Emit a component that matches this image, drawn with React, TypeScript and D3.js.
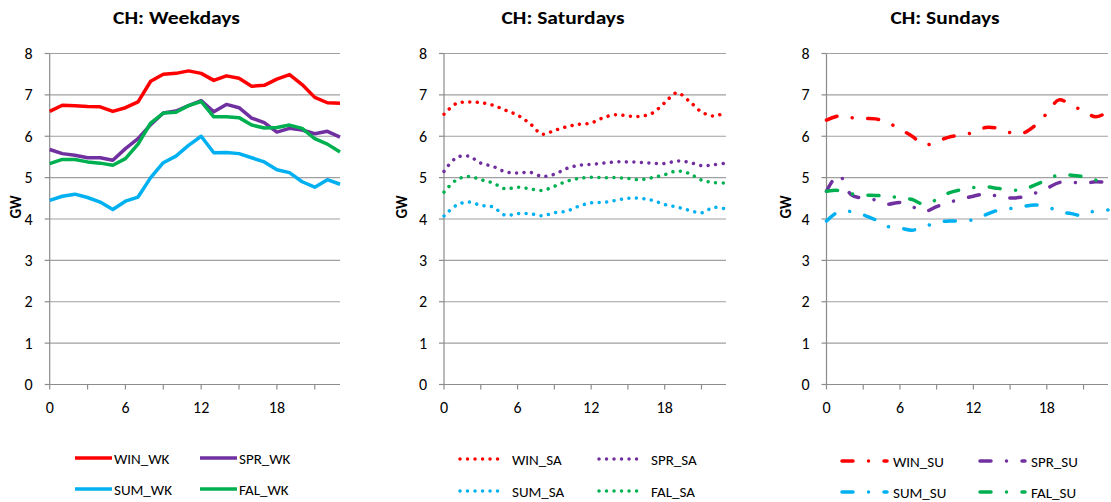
import React from "react";
import * as d3 from "d3";

// hour of day (categories)
const hours = [0, 1, 2, 3, 4, 5, 6, 7, 8, 9, 10, 11, 12, 13, 14, 15, 16, 17, 18, 19, 20, 21, 22, 23];
const xTickLabels = [0, 6, 12, 18];
const xTickMarks = [0, 3, 6, 9, 12, 15, 18, 21];
const yTicks = [0, 1, 2, 3, 4, 5, 6, 7, 8];

// weekdays
const winWk = [6.6, 6.75, 6.74, 6.72, 6.71, 6.6, 6.69, 6.83, 7.33, 7.5, 7.52, 7.58, 7.52, 7.35, 7.46, 7.4, 7.21, 7.23, 7.38, 7.49, 7.25, 6.94, 6.81, 6.8];
const sprWk = [5.68, 5.58, 5.54, 5.48, 5.48, 5.42, 5.7, 5.94, 6.28, 6.56, 6.61, 6.74, 6.86, 6.59, 6.77, 6.69, 6.44, 6.33, 6.1, 6.19, 6.15, 6.06, 6.12, 5.98];
const sumWk = [4.45, 4.55, 4.6, 4.52, 4.41, 4.23, 4.43, 4.53, 5.0, 5.36, 5.52, 5.78, 6.0, 5.6, 5.61, 5.58, 5.48, 5.38, 5.19, 5.12, 4.9, 4.77, 4.95, 4.84];
const falWk = [5.34, 5.44, 5.44, 5.38, 5.35, 5.3, 5.46, 5.81, 6.32, 6.56, 6.58, 6.74, 6.84, 6.47, 6.47, 6.45, 6.27, 6.2, 6.21, 6.27, 6.19, 5.94, 5.81, 5.62];

// saturdays
const winSa = [6.53, 6.79, 6.83, 6.81, 6.75, 6.63, 6.51, 6.31, 6.05, 6.14, 6.23, 6.29, 6.32, 6.45, 6.52, 6.49, 6.48, 6.56, 6.81, 7.05, 6.85, 6.59, 6.49, 6.58];
const sprSa = [5.15, 5.48, 5.52, 5.35, 5.27, 5.14, 5.11, 5.13, 5.03, 5.08, 5.22, 5.3, 5.32, 5.35, 5.38, 5.38, 5.37, 5.35, 5.34, 5.4, 5.37, 5.29, 5.31, 5.35];
const sumSa = [4.07, 4.33, 4.41, 4.33, 4.29, 4.09, 4.13, 4.13, 4.08, 4.15, 4.19, 4.31, 4.39, 4.4, 4.45, 4.5, 4.5, 4.45, 4.35, 4.29, 4.21, 4.15, 4.28, 4.24];
const falSa = [4.65, 4.94, 5.03, 4.95, 4.87, 4.73, 4.77, 4.73, 4.69, 4.79, 4.91, 4.98, 5.01, 5.0, 5.0, 4.98, 4.95, 5.0, 5.07, 5.16, 5.1, 4.94, 4.88, 4.87];

// sundays
const winSu = [6.39, 6.49, 6.45, 6.43, 6.42, 6.33, 6.17, 6.0, 5.79, 5.87, 5.98, 6.03, 6.09, 6.21, 6.19, 6.09, 6.07, 6.25, 6.55, 6.88, 6.75, 6.61, 6.47, 6.59];
const sprSu = [4.67, 5.07, 4.59, 4.5, 4.46, 4.36, 4.4, 4.3, 4.18, 4.3, 4.4, 4.48, 4.55, 4.61, 4.55, 4.51, 4.53, 4.62, 4.74, 4.88, 4.89, 4.86, 4.9, 4.88];
const sumSu = [3.95, 4.18, 4.18, 4.1, 3.98, 3.82, 3.78, 3.73, 3.81, 3.92, 3.95, 3.95, 3.98, 4.1, 4.21, 4.25, 4.3, 4.34, 4.3, 4.18, 4.13, 4.08, 4.21, 4.22];
const falSu = [4.67, 4.69, 4.61, 4.58, 4.57, 4.55, 4.51, 4.47, 4.35, 4.47, 4.63, 4.71, 4.76, 4.78, 4.74, 4.71, 4.7, 4.82, 4.94, 5.07, 5.06, 5.02, 4.94, 4.9];

const RED = "#FF0000";
const PURPLE = "#7030A0";
const BLUE = "#00B0F0";
const GREEN = "#00B050";

const FONT = "Carlito, Lato, 'Open Sans', sans-serif";

type Series = { name: string; values: number[]; color: string };

type PanelProps = {
  title: string;
  titleX: number;
  titleW: number;
  left: number;
  right: number;
  series: Series[];
  dash: string | null;
  smooth: boolean;
  legendX: [number, number];
  legendY: [number, number];
  legendLen: number;
  legendGap: number;
  gwX: number;
};

const TOP = 53.5;
const BOTTOM = 384.5;

const Panel = ({
  title, titleX, titleW, left, right, series, dash, smooth, legendX, legendY, legendLen, legendGap, gwX,
}: PanelProps) => {
  const x = d3.scaleLinear().domain([0, 23]).range([left, right]);
  const y = d3.scaleLinear().domain([0, 8]).range([BOTTOM, TOP]);
  const line = d3
    .line<number>()
    .x((d, i) => x(hours[i]))
    .y((d) => y(d))
    .curve(smooth ? d3.curveCatmullRom.alpha(0.5) : d3.curveLinear);

  const lineStyle = (color: string) => ({
    fill: "none",
    stroke: color,
    strokeWidth: 3.5,
    strokeLinecap: dash ? ("round" as const) : ("butt" as const),
    strokeLinejoin: "round" as const,
    strokeDasharray: dash ?? undefined,
  });

  return (
    <g>
      <text
        x={titleX - titleW / 2}
        y={24}
        fontFamily={FONT}
        fontWeight="bold"
        fontSize={17.5}
        textLength={titleW}
        lengthAdjust="spacingAndGlyphs"
      >
        {title}
      </text>
      {yTicks.map((t) => (
        <g key={"y" + t}>
          {t > 0 && <line x1={left} x2={right} y1={y(t)} y2={y(t)} stroke="#A0A0A0" strokeWidth={1.2} />}
          <line x1={left - 5} x2={left} y1={y(t)} y2={y(t)} stroke="#8C8C8C" strokeWidth={1.2} />
          <text x={left - 17} y={y(t) + 5.5} textAnchor="end" fontFamily={FONT} fontSize={16} fill="#000">
            {t}
          </text>
        </g>
      ))}
      <line x1={left} x2={left} y1={TOP} y2={BOTTOM} stroke="#8C8C8C" strokeWidth={1.2} />
      <line x1={left} x2={right} y1={BOTTOM} y2={BOTTOM} stroke="#8C8C8C" strokeWidth={1.2} />
      {xTickMarks.map((t) => (
        <line key={"xm" + t} x1={x(t)} x2={x(t)} y1={BOTTOM} y2={BOTTOM + 5} stroke="#8C8C8C" strokeWidth={1.2} />
      ))}
      {xTickLabels.map((t) => (
        <text key={"xl" + t} x={x(t)} y={413} textAnchor="middle" fontFamily={FONT} fontSize={16}>
          {t}
        </text>
      ))}
      <text
        transform={`translate(${gwX},207) rotate(-90)`}
        textAnchor="middle"
        fontFamily={FONT}
        fontWeight="bold"
        fontSize={15}
        dy="0.35em"
      >
        GW
      </text>
      {series.map((s) => (
        <path key={s.name} d={line(s.values) ?? ""} style={lineStyle(s.color)} />
      ))}
      {series.map((s, i) => {
        const lx = legendX[i % 2];
        const ly = legendY[Math.floor(i / 2)];
        return (
          <g key={"lg" + s.name}>
            <line x1={lx} x2={lx + legendLen} y1={ly} y2={ly} style={lineStyle(s.color)} />
            <text x={lx + legendLen + legendGap} y={ly + 5.5} fontFamily={FONT} fontSize={15}>
              {s.name}
            </text>
          </g>
        );
      })}
    </g>
  );
};

export default function App() {
  return (
    <svg width={1111} height={502} style={{ position: "absolute", left: 0, top: 0, background: "#fff" }}>
      <rect width={1111} height={502} fill="#fff" />
      <Panel
        title="CH: Weekdays"
        titleX={176.5}
        titleW={127}
        left={49.7}
        right={340}
        gwX={16}
        dash={null}
        smooth={false}
        legendX={[75, 200]}
        legendY={[458, 489]}
        legendLen={37}
        legendGap={2}
        series={[
          { name: "WIN_WK", values: winWk, color: RED },
          { name: "SPR_WK", values: sprWk, color: PURPLE },
          { name: "SUM_WK", values: sumWk, color: BLUE },
          { name: "FAL_WK", values: falWk, color: GREEN },
        ]}
      />
      <Panel
        title="CH: Saturdays"
        titleX={563}
        titleW={123}
        left={444}
        right={726}
        gwX={402}
        dash="0.01 7.5"
        smooth={true}
        legendX={[460, 599]}
        legendY={[459, 491]}
        legendLen={43}
        legendGap={9}
        series={[
          { name: "WIN_SA", values: winSa, color: RED },
          { name: "SPR_SA", values: sprSa, color: PURPLE },
          { name: "SUM_SA", values: sumSa, color: BLUE },
          { name: "FAL_SA", values: falSa, color: GREEN },
        ]}
      />
      <Panel
        title="CH: Sundays"
        titleX={945}
        titleW={109}
        left={826.5}
        right={1108}
        gwX={786}
        dash="11 15.5 0.01 15.5"
        smooth={true}
        legendX={[842, 980]}
        legendY={[461, 492]}
        legendLen={45}
        legendGap={6}
        series={[
          { name: "WIN_SU", values: winSu, color: RED },
          { name: "SPR_SU", values: sprSu, color: PURPLE },
          { name: "SUM_SU", values: sumSu, color: BLUE },
          { name: "FAL_SU", values: falSu, color: GREEN },
        ]}
      />
    </svg>
  );
}
